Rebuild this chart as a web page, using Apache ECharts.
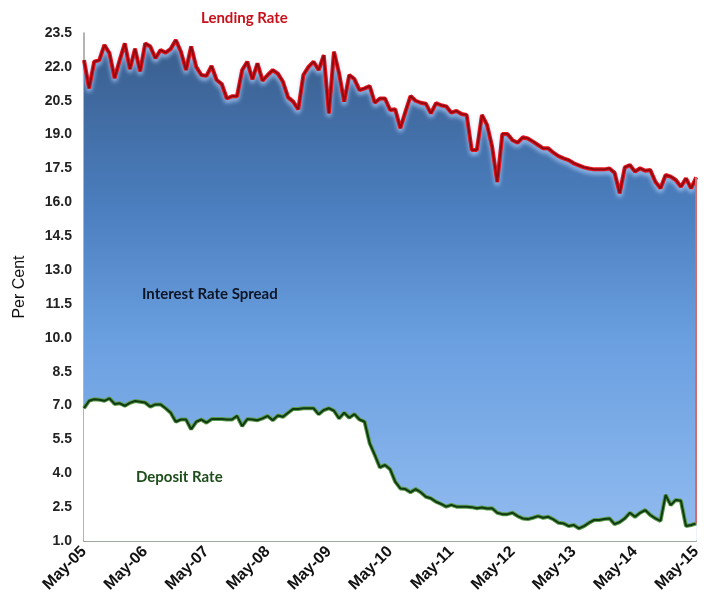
<!DOCTYPE html>
<html>
<head>
<meta charset="utf-8">
<script src="https://cdn.jsdelivr.net/npm/echarts@6/dist/echarts.min.js"></script>
<style>
  html, body { margin: 0; padding: 0; background: #ffffff; }
  #chart { width: 704px; height: 601px; }
</style>
</head>
<body>
<div id="chart"></div>
<script>
// Monthly series, May 2005 to May 2015 (per cent)
const monthNames = ['Jan', 'Feb', 'Mar', 'Apr', 'May', 'Jun', 'Jul', 'Aug', 'Sep', 'Oct', 'Nov', 'Dec'];
const startYear = 2005;
const startMonth = 4; // May

const lendingRate = [
  22.30, 21.05, 22.23, 22.30, 22.97, 22.60, 21.50, 22.30, 23.04, 21.90, 22.80, 21.80,
  23.04, 22.90, 22.38, 22.75, 22.63, 22.80, 23.19, 22.67, 21.86, 22.90, 22.00, 21.64,
  21.60, 22.04, 21.42, 21.24, 20.60, 20.70, 20.70, 21.86, 22.23, 21.45, 22.16, 21.39,
  21.64, 21.86, 21.70, 21.34, 20.65, 20.46, 20.12, 21.64, 22.00, 22.23, 21.86, 22.52,
  19.94, 22.67, 21.71, 20.46, 21.64, 21.46, 20.97, 21.05, 21.15, 20.41, 20.60, 20.60,
  20.09, 20.12, 19.28, 20.01, 20.71, 20.50, 20.41, 20.37, 19.94, 20.39, 20.30, 20.25,
  19.97, 20.05, 19.91, 19.87, 18.32, 18.32, 19.87, 19.43, 18.46, 16.90, 19.03, 19.03,
  18.75, 18.64, 18.88, 18.83, 18.69, 18.54, 18.39, 18.39, 18.20, 18.05, 17.95, 17.87,
  17.73, 17.64, 17.55, 17.50, 17.46, 17.46, 17.46, 17.50, 17.31, 16.40, 17.55, 17.65,
  17.36, 17.51, 17.40, 17.43, 16.91, 16.62, 17.21, 17.14, 16.99, 16.69, 17.06, 16.62,
  17.11
];

const depositRate = [
  6.88, 7.21, 7.28, 7.26, 7.21, 7.32, 7.07, 7.10, 6.99, 7.12, 7.20, 7.17,
  7.13, 6.95, 7.05, 7.05, 6.88, 6.68, 6.28, 6.38, 6.38, 5.95, 6.28, 6.38,
  6.24, 6.40, 6.40, 6.40, 6.38, 6.38, 6.54, 6.09, 6.40, 6.38, 6.35, 6.43,
  6.54, 6.35, 6.56, 6.50, 6.68, 6.85, 6.85, 6.88, 6.88, 6.88, 6.61, 6.80,
  6.88, 6.77, 6.43, 6.68, 6.46, 6.62, 6.38, 6.28, 5.33, 4.81, 4.26, 4.37,
  4.18, 3.63, 3.33, 3.30, 3.16, 3.30, 3.16, 2.96, 2.89, 2.74, 2.64, 2.52,
  2.60, 2.52, 2.52, 2.52, 2.50, 2.45, 2.48, 2.44, 2.45, 2.25, 2.19, 2.19,
  2.25, 2.10, 2.00, 1.97, 2.03, 2.10, 2.03, 2.07, 1.96, 1.81, 1.78, 1.66,
  1.71, 1.56, 1.66, 1.81, 1.93, 1.93, 1.97, 2.00, 1.75, 1.84, 2.00, 2.25,
  2.07, 2.25, 2.37, 2.15, 2.00, 1.89, 3.04, 2.59, 2.82, 2.78, 1.66, 1.71,
  1.78
];

const yMin = 1.0;
const yMax = 23.5;
const yStep = 1.5;

// Category labels such as "May-05", "Jun-05", ...
const categories = lendingRate.map((_, k) => {
  const m = (startMonth + k) % 12;
  const yr = startYear + Math.floor((startMonth + k) / 12);
  return monthNames[m] + '-' + String(yr).slice(-2);
});

const last = categories.length - 1;
const chart = echarts.init(document.getElementById('chart'), null, { renderer: 'canvas' });

const labelFont = 'Liberation Sans, Arial, sans-serif';
const textFont = 'Lato, Open Sans, sans-serif';

chart.setOption({
  animation: false,
  backgroundColor: '#ffffff',
  grid: { left: 84, right: 4, top: 33, bottom: 60, containLabel: false },
  xAxis: {
    type: 'category',
    data: categories,
    boundaryGap: false,
    axisLine: { show: true, lineStyle: { color: '#7f8f7f', width: 1.5 } },
    axisTick: { show: false },
    splitLine: { show: false },
    axisLabel: {
      interval: 11,
      rotate: 45,
      margin: 8,
      color: '#111111',
      fontFamily: labelFont,
      fontWeight: 'bold',
      fontSize: 16
    }
  },
  yAxis: {
    type: 'value',
    min: yMin,
    max: yMax,
    interval: yStep,
    name: 'Per Cent',
    nameLocation: 'middle',
    nameGap: 56,
    nameTextStyle: { color: '#111111', fontFamily: labelFont, fontSize: 16 },
    axisLine: { show: true, lineStyle: { color: '#9a9a9a', width: 1.5 } },
    axisTick: { show: false },
    splitLine: { show: false },
    axisLabel: {
      margin: 12,
      color: '#222222',
      fontFamily: labelFont,
      fontWeight: 'bold',
      fontSize: 14,
      formatter: v => v.toFixed(1)
    }
  },
  series: [
    {
      // spread area, filled down from the lending rate
      name: 'Lending Rate',
      type: 'line',
      data: lendingRate,
      symbol: 'none',
      z: 2,
      lineStyle: {
        color: '#e8141c', width: 4,
        shadowColor: 'rgba(170,205,250,0.9)', shadowBlur: 4, shadowOffsetY: 3
      },
      areaStyle: {
        opacity: 1,
        color: new echarts.graphic.LinearGradient(0, 0, 0, 1, [
          { offset: 0, color: '#395d8c' },
          { offset: 0.35, color: '#4c80c1' },
          { offset: 0.6, color: '#6a9fe0' },
          { offset: 1, color: '#92bcf0' }
        ])
      },
      markLine: {
        symbol: 'none',
        silent: true,
        label: { show: false },
        lineStyle: { color: '#d46a6a', width: 2, type: 'solid' },
        data: [[
          { coord: [last, lendingRate[last]] },
          { coord: [last, depositRate[last]] }
        ]]
      }
    },
    {
      // white band below the deposit rate
      name: 'Deposit Rate',
      type: 'line',
      data: depositRate,
      symbol: 'none',
      z: 3,
      lineStyle: { color: '#5c9a4c', width: 4 },
      areaStyle: { color: '#ffffff', opacity: 1 }
    },
    {
      name: 'Lending core',
      type: 'line',
      data: lendingRate,
      symbol: 'none',
      z: 4,
      lineStyle: { color: '#8c0a10', width: 1.8 }
    },
    {
      name: 'Deposit core',
      type: 'line',
      data: depositRate,
      symbol: 'none',
      z: 4,
      lineStyle: { color: '#0f3a12', width: 2 }
    }
  ],
  graphic: [
    {
      type: 'text', left: 201, top: 11, z: 10,
      style: { text: 'Lending Rate', fill: '#c8101a', font: 'bold 15px ' + textFont }
    },
    {
      type: 'text', left: 142, top: 287, z: 10,
      style: { text: 'Interest Rate Spread', fill: '#0d1526', font: 'bold 15px ' + textFont }
    },
    {
      type: 'text', left: 136, top: 470, z: 10,
      style: { text: 'Deposit Rate', fill: '#1d4d1a', font: 'bold 15px ' + textFont }
    }
  ]
});
</script>
</body>
</html>
